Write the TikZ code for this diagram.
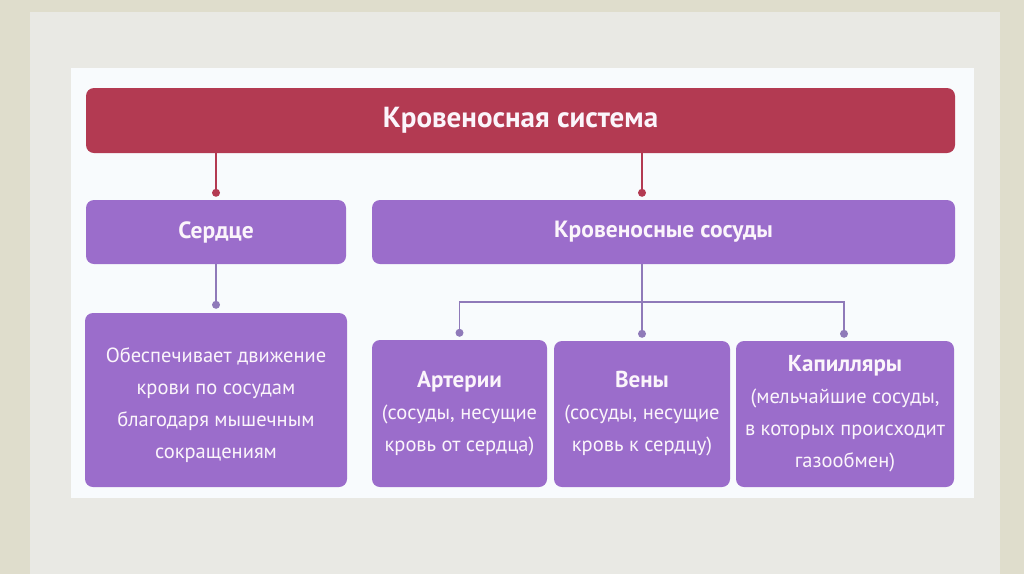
\documentclass[tikz,border=0pt]{standalone}
\usepackage{fontspec}
\setmainfont{PT Sans}
\begin{document}
\begin{tikzpicture}[x=1pt,y=-1pt,
  boxp/.style={draw=none,fill=vpurple,rounded corners=8pt,text=txtw,align=center,inner sep=0pt},
  boxr/.style={draw=none,fill=vred,rounded corners=8pt,text=txtw,align=center,inner sep=0pt},
  lred/.style={draw=vred,line width=1.4pt},
  lpur/.style={draw=lpurple,line width=1.4pt},
  dotr/.style={fill=vred,draw=none},
  dotp/.style={fill=lpurple,draw=none},
  body/.style={font=\fontsize{20.5}{32}\selectfont},
]
\newcommand{\hd}[1]{{\fontsize{23}{32}\selectfont\bfseries #1}}
\definecolor{vred}{HTML}{B33A52}
\definecolor{vpurple}{HTML}{9B6DCB}
\definecolor{lpurple}{HTML}{8F7AB9}
\definecolor{txtw}{HTML}{FBF5FB}
\definecolor{bgout}{HTML}{DFDDCC}
\definecolor{bgin}{HTML}{E9E9E4}
\definecolor{paper}{HTML}{F8FBFD}
\useasboundingbox (0,0) rectangle (1024,574);
\fill[bgout] (0,0) rectangle (1024,574);
\fill[bgin] (30,12) rectangle (1000,574);
\fill[paper] (71,68) rectangle (974,498);

\node[boxr,minimum width=869pt,minimum height=65pt,font=\fontsize{29}{32}\selectfont\bfseries] (title) at (520.5,120.5) {Кровеносная система};
\node[boxp,minimum width=260pt,minimum height=64pt,font=\fontsize{23.5}{26}\selectfont\bfseries] (heart) at (216,232) {Сердце};
\node[boxp,minimum width=583pt,minimum height=64pt,font=\fontsize{23.5}{26}\selectfont\bfseries] (vessels) at (663.5,232) {Кровеносные сосуды};
\node[boxp,body,minimum width=262pt,minimum height=174pt] (desc) at (216,400) {\raisebox{-4pt}[\height][\depth]{\begin{tabular}{@{}c@{}}Обеспечивает движение\\крови по сосудам\\благодаря мышечным\\сокращениям\end{tabular}}};
\node[boxp,body,minimum width=175pt,minimum height=147pt] (artery) at (459.5,413.5) {\hd{Артерии}\\(сосуды, несущие\\кровь от сердца)};
\node[boxp,body,minimum width=176pt,minimum height=146pt] (vein) at (642,414) {\hd{Вены}\\(сосуды, несущие\\кровь к сердцу)};
\node[boxp,body,minimum width=218pt,minimum height=146pt] (capil) at (845,414) {\hd{Капилляры}\\(мельчайшие сосуды,\\в которых происходит\\газообмен)};

% title connectors
\coordinate (hdot) at ([yshift=7pt]heart.north);
\coordinate (vdot) at ([yshift=7pt]vessels.north -| vein.north);
\draw[lred] (title.south -| heart.north) -- (hdot);
\fill[dotr] (hdot) circle [radius=4pt];
\draw[lred] (title.south -| vein.north) -- (vdot);
\fill[dotr] (vdot) circle [radius=4pt];

% heart to description
\coordinate (ddot) at ([yshift=8pt]desc.north);
\draw[lpur] (heart.south) -- (ddot);
\fill[dotp] (ddot) circle [radius=4pt];

% vessels tree
\coordinate (bar) at (0,302);
\coordinate (adot) at ([yshift=7pt]artery.north);
\coordinate (vndot) at ([yshift=7pt]vein.north);
\coordinate (cdot) at ([yshift=7pt]capil.north -| 844,0);
\draw[lpur] (vessels.south -| vein.north) -- (vndot);
\draw[lpur] (adot) -- (adot |- bar) -- (cdot |- bar) -- (cdot);
\fill[dotp] (adot) circle [radius=4pt];
\fill[dotp] (vndot) circle [radius=4pt];
\fill[dotp] (cdot) circle [radius=4pt];
\end{tikzpicture}
\end{document}
